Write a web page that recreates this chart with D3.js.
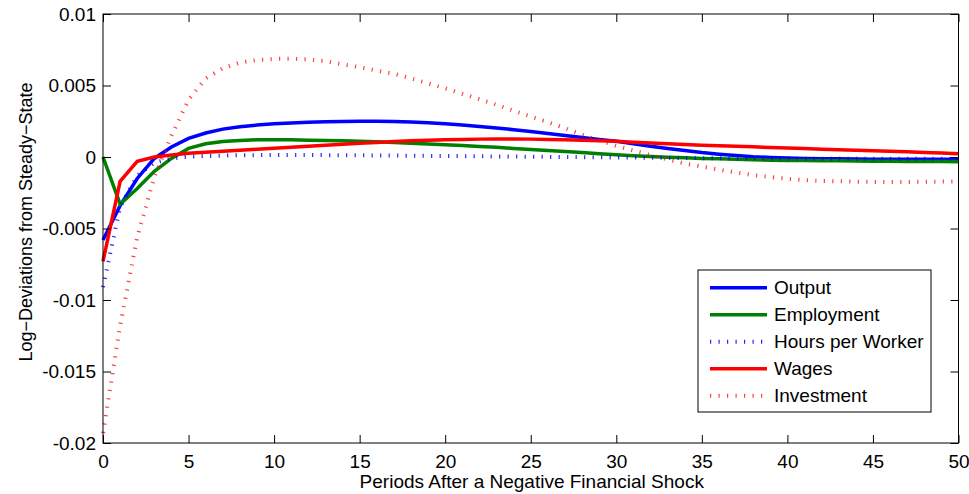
<!DOCTYPE html>
<html>
<head>
<meta charset="utf-8">
<script src="https://cdn.jsdelivr.net/npm/d3@7"></script>
<style>
  html, body { margin: 0; padding: 0; background: #fff; }
  svg { display: block; font-family: "Liberation Sans", Arial, Helvetica, sans-serif; }
</style>
</head>
<body>
<svg id="chart" width="969" height="494"></svg>
<script>
// Impulse responses to a negative financial shock, periods 0..50
const periods = d3.range(0, 51);

const output = [
  -0.0058, -0.0034, -0.0015, -0.0001, 0.0007, 0.0013, 0.00168, 0.00195, 0.00212, 0.00223,
  0.00232, 0.00238, 0.00243, 0.00247, 0.00249, 0.0025, 0.0025, 0.00248, 0.00244, 0.0024,
  0.00232, 0.00224, 0.00214, 0.00203, 0.00191, 0.00178, 0.00164, 0.0015, 0.00137, 0.00123,
  0.0011, 0.00093, 0.00075, 0.0006, 0.00045, 0.00031, 0.0002, 0.0001, 0.00002, -0.00003,
  -0.00007, -0.0001, -0.00012, -0.00013, -0.00014, -0.00015, -0.00015, -0.00016, -0.00016, -0.00016,
  -0.00016
];

const employment = [
  0, -0.0033, -0.0022, -0.0010, -0.0001, 0.0006, 0.00092, 0.00108, 0.00116, 0.0012,
  0.0012, 0.0012, 0.00118, 0.00116, 0.00113, 0.0011, 0.00106, 0.00101, 0.00096, 0.00091,
  0.00085, 0.0008, 0.00074, 0.00068, 0.0006, 0.00052, 0.00045, 0.00039, 0.00031, 0.00023,
  0.00016, 0.00009, 0.00003, -0.00002, -0.00006, -0.0001, -0.00013, -0.00016, -0.0002, -0.00022,
  -0.00024, -0.00025, -0.00026, -0.00027, -0.00028, -0.00029, -0.0003, -0.00031, -0.00032, -0.00032,
  -0.00033
];

const hoursPerWorker = [
  -0.0091, -0.0035, -0.0013, -0.0004, -0.0001, 0.00002, 0.00007, 0.0001, 0.00012, 0.00013,
  0.00014, 0.00014, 0.00014, 0.00013, 0.00013, 0.00012, 0.00011, 0.0001, 0.00009, 0.00008,
  0.00007, 0.00006, 0.00005, 0.00004, 0.00003, 0.00002, 0.00001, 0, -0.00001, -0.00002,
  -0.00003, -0.00004, -0.00005, -0.00006, -0.00007, -0.00008, -0.00009, -0.0001, -0.0001, -0.00011,
  -0.00011, -0.00012, -0.00012, -0.00012, -0.00013, -0.00013, -0.00013, -0.00013, -0.00013, -0.00013,
  -0.00013
];

const wages = [
  -0.0073, -0.0017, -0.0003, 0.0, 0.00014, 0.00026, 0.00033, 0.0004, 0.00047, 0.00054,
  0.00061, 0.00069, 0.00076, 0.00083, 0.0009, 0.00096, 0.00102, 0.00108, 0.00113, 0.00117,
  0.0012, 0.00123, 0.00125, 0.00126, 0.00126, 0.00125, 0.00123, 0.0012, 0.00117, 0.00114,
  0.0011, 0.00104, 0.00098, 0.00093, 0.00088, 0.00083, 0.00079, 0.00075, 0.00071, 0.00067,
  0.00063, 0.00059, 0.00055, 0.00051, 0.00048, 0.00044, 0.0004, 0.00036, 0.00032, 0.00028,
  0.00022
];

const investment = [
  -0.0193, -0.0118, -0.0056, -0.0014, 0.0015, 0.0040, 0.0055, 0.0062, 0.0066, 0.00678,
  0.00686, 0.00688, 0.00682, 0.0067, 0.00648, 0.00628, 0.00604, 0.00582, 0.0055, 0.00515,
  0.0048, 0.00442, 0.00405, 0.00365, 0.00324, 0.00283, 0.00243, 0.00202, 0.00155, 0.00117,
  0.00078, 0.00045, 0.00012, -0.00017, -0.00046, -0.00067, -0.00088, -0.00108, -0.00127, -0.0014,
  -0.00153, -0.00162, -0.00168, -0.0017, -0.00172, -0.00174, -0.00175, -0.00175, -0.00173, -0.00172,
  -0.00172
];

const xTicks = [0, 5, 10, 15, 20, 25, 30, 35, 40, 45, 50];
const yTicks = [0.01, 0.005, 0, -0.005, -0.01, -0.015, -0.02];
const yTickLabels = ["0.01", "0.005", "0", "-0.005", "-0.01", "-0.015", "-0.02"];

const seriesNames = ["Output", "Employment", "Hours per Worker", "Wages", "Investment"];
const seriesValues = [output, employment, hoursPerWorker, wages, investment];

const xLabel = "Periods After a Negative Financial Shock";
const yLabel = "Log\u2212Deviations from Steady\u2212State";

// ---- styling ----
const styles = [
  { color: "#0000ff", width: 3.5, dotted: false },
  { color: "#008000", width: 3.5, dotted: false },
  { color: "#0000ff", width: 4, dotted: true, opacity: 0.85 },
  { color: "#ff0000", width: 3.5, dotted: false },
  { color: "#ff0000", width: 4, dotted: true, opacity: 0.75 }
];

const svg = d3.select("#chart");
const plot = { left: 103, right: 958.5, top: 14, bottom: 443 };
const fontSize = 19;
const yLabelSize = 18;
const tickLen = 8;

const x = d3.scaleLinear().domain([0, 50]).range([plot.left, plot.right]);
const y = d3.scaleLinear().domain([-0.02, 0.01]).range([plot.bottom, plot.top]);

// series lines
const line = d3.line().x(d => x(d[0])).y(d => y(d[1]));
const linesG = svg.append("g");
seriesValues.forEach((vals, i) => {
  const st = styles[i];
  linesG.append("path")
    .datum(periods.map((p, j) => [p, vals[j]]))
    .attr("d", line)
    .attr("fill", "none")
    .attr("stroke", st.color)
    .attr("stroke-width", st.width)
    .attr("stroke-opacity", st.opacity || 1)
    .attr("stroke-linejoin", "miter")
    .attr("stroke-linecap", "butt")
    .attr("stroke-dasharray", st.dotted ? "1.2,7.3" : null);
});

// axes with inward ticks, mirrored on the opposite sides
const axisG = svg.append("g").attr("font-size", fontSize);

const bottomAxis = d3.axisBottom(x).tickValues(xTicks).tickSizeInner(-tickLen).tickSizeOuter(0).tickPadding(12);
const topAxis = d3.axisTop(x).tickValues(xTicks).tickSizeInner(-tickLen).tickSizeOuter(0).tickFormat("");
const leftAxis = d3.axisLeft(y).tickValues(yTicks).tickSizeInner(-tickLen).tickSizeOuter(0).tickPadding(7)
  .tickFormat((d, i) => yTickLabels[i]);
const rightAxis = d3.axisRight(y).tickValues(yTicks).tickSizeInner(-tickLen).tickSizeOuter(0).tickFormat("");

function styleAxis(g) {
  g.select(".domain").remove();
  g.selectAll(".tick line").attr("stroke", "#000").attr("stroke-width", 1);
  g.selectAll(".tick text").attr("fill", "#000").attr("font-family", "Liberation Sans, Arial, Helvetica, sans-serif").attr("font-size", fontSize);
}

axisG.append("g").attr("transform", `translate(0,${plot.bottom})`).call(bottomAxis).call(styleAxis);
axisG.append("g").attr("transform", `translate(0,${plot.top})`).call(topAxis).call(styleAxis);
axisG.append("g").attr("transform", `translate(${plot.left},0)`).call(leftAxis).call(styleAxis);
axisG.append("g").attr("transform", `translate(${plot.right},0)`).call(rightAxis).call(styleAxis);

// box
svg.append("rect")
  .attr("x", plot.left).attr("y", plot.top)
  .attr("width", plot.right - plot.left).attr("height", plot.bottom - plot.top)
  .attr("fill", "none").attr("stroke", "#000").attr("stroke-width", 1);

// axis titles
svg.append("text")
  .attr("x", (plot.left + plot.right) / 2 + 1)
  .attr("y", 488)
  .attr("text-anchor", "middle")
  .attr("font-size", fontSize)
  .attr("fill", "#000")
  .text(xLabel);

svg.append("text")
  .attr("transform", `translate(32,${222}) rotate(-90)`)
  .attr("text-anchor", "middle")
  .attr("font-size", yLabelSize)
  .attr("fill", "#000")
  .text(yLabel);

// legend
const legend = { x: 698, y: 270, w: 233, h: 142, firstRow: 287.7, rowGap: 27, lineX0: 710, lineX1: 767, textX: 774 };
const legG = svg.append("g");
legG.append("rect")
  .attr("x", legend.x).attr("y", legend.y)
  .attr("width", legend.w).attr("height", legend.h)
  .attr("fill", "#fff").attr("stroke", "#000").attr("stroke-width", 1);

seriesNames.forEach((name, i) => {
  const st = styles[i];
  const ry = legend.firstRow + i * legend.rowGap;
  legG.append("line")
    .attr("x1", legend.lineX0).attr("x2", legend.lineX1)
    .attr("y1", ry).attr("y2", ry)
    .attr("stroke", st.color)
    .attr("stroke-width", st.width)
    .attr("stroke-opacity", st.opacity || 1)
    .attr("stroke-dasharray", st.dotted ? "1.2,7.3" : null);
  legG.append("text")
    .attr("x", legend.textX).attr("y", ry)
    .attr("dy", "0.35em")
    .attr("font-size", fontSize)
    .attr("fill", "#000")
    .text(name);
});
</script>
</body>
</html>
